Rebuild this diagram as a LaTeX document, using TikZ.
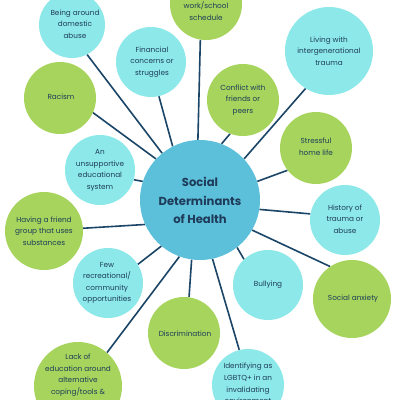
\documentclass[tikz,border=0pt]{standalone}
\usepackage{fontspec}
\setmainfont{Poppins}
\pgfdeclarelayer{background}
\pgfsetlayers{background,main}
\definecolor{hubc}{RGB}{93,192,218}
\definecolor{cyanc}{RGB}{141,233,233}
\definecolor{greenc}{RGB}{166,212,92}
\definecolor{linec}{RGB}{27,69,103}
\definecolor{textc}{RGB}{30,60,90}
\tikzset{
  bub/.style={circle, inner sep=0pt, draw=none, minimum size=#1},
  cy/.style={bub=#1, fill=cyanc},
  gr/.style={bub=#1, fill=greenc},
  lbl/.style={align=center, text=textc, font=\fontsize{7.3}{11.6}\selectfont, inner sep=0pt},
  conn/.style={draw=linec, line width=1.6pt}
}
\begin{document}
\begin{tikzpicture}[x=1pt,y=-1pt]
\useasboundingbox (0,0) rectangle (400,400);
% hub
\node[bub=120pt, fill=hubc] (hub) at (200,200) {};
\node[align=center, text=textc, font=\fontsize{11.6}{18.5}\selectfont\bfseries, inner sep=0pt] (hubt) at (200,200.5) {Social\\Determinants\\of Health};
% bubbles
\node[cy=66pt] (dom) at (72,25) {};
\node[lbl] (domt) at (75,24) {Being around\\domestic\\abuse};
\node[cy=70pt] (fin) at (151,62) {};
\node[lbl] (fint) at (152,62) {Financial\\concerns or\\struggles};
\node[gr=72pt] (rac) at (60,98) {};
\node[lbl] (ract) at (61,97) {Racism};
\node[gr=72pt] (work) at (206,4) {};
\node[lbl] (workt) at (206,11) {work/school\\schedule};
\node[cy=88pt] (liv) at (329,51) {};
\node[lbl] (livt) at (329,51) {Living with\\intergenerational\\trauma};
\node[gr=72pt] (conf) at (243,100) {};
\node[lbl] (conft) at (243,100) {Conflict with\\friends or\\peers};
\node[gr=72pt] (str) at (316,148) {};
\node[lbl] (strt) at (316,147) {Stressful\\home life};
\node[cy=70pt] (hist) at (345,220) {};
\node[lbl] (histt) at (345,219) {History of\\trauma or\\abuse};
\node[gr=78pt] (anx) at (352,299) {};
\node[lbl] (anxt) at (353,299) {Social anxiety};
\node[cy=70pt] (bul) at (268,285) {};
\node[lbl] (bult) at (268,285) {Bullying};
\node[cy=72pt] (lgb) at (248,385) {};
\node[lbl] (lgbt) at (248,383.5) {Identifying as\\LGBTQ+ in an\\invalidating\\environment};
\node[gr=72pt] (dis) at (184,333) {};
\node[lbl] (dist) at (185,334) {Discrimination};
\node[gr=88pt] (lack) at (78,386) {};
\node[lbl] (lackt) at (78,375) {Lack of\\education around\\alternative\\coping/tools \&};
\node[cy=70pt] (few) at (108,283) {};
\node[lbl] (fewt) at (107,283) {Few\\recreational/\\community\\opportunities};
\node[gr=78pt] (hav) at (44,231) {};
\node[lbl] (havt) at (44,231) {Having a friend\\group that uses\\substances};
\node[cy=70pt] (uns) at (100,170) {};
\node[lbl] (unst) at (100,170.5) {An\\unsupportive\\educational\\system};
% connectors
\begin{pgfonlayer}{background}
\fill[white] (0,0) rectangle (400,400);
\draw[conn] (hub.129) -- (dom.-63);
\draw[conn] (hub.137) -- (rac.-24);
\draw[conn] (hub.117) -- (fin.-77);
\draw[conn] (hub.92) -- (work.-99);
\draw[conn] (hub.69) -- (conf.-111);
\draw[conn] (hub.43) -- (liv.-122);
\draw[conn] (hub.18) -- (str.-142);
\draw[conn] (hub.-9) -- (hist.170);
\draw[conn] (hub.-30) -- (anx.124);
\draw[conn] (hub.-52) -- (bul.133);
\draw[conn] (hub.-78) -- (lgb.104);
\draw[conn] (hub.-98) -- (dis.82);
\draw[conn] (hub.-110) -- (lack.49);
\draw[conn] (hub.-130) -- (few.32);
\draw[conn] (hub.-156) -- (hav.4);
\draw[conn] (hub.162) -- (uns.-16);
\end{pgfonlayer}
\end{tikzpicture}
\end{document}
